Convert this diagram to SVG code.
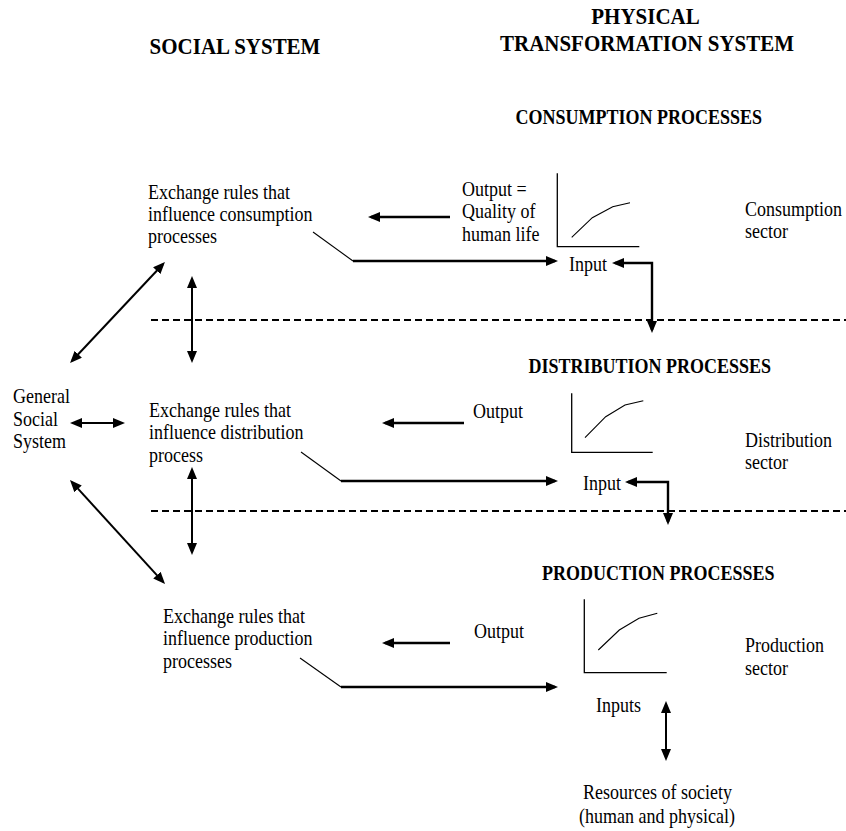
<svg xmlns="http://www.w3.org/2000/svg" width="846" height="831" viewBox="0 0 846 831">
<defs>
<marker id="ah" markerUnits="userSpaceOnUse" markerWidth="12" markerHeight="10" refX="9" refY="5" orient="auto-start-reverse" viewBox="0 0 12 10"><path d="M0,0 L12,5 L0,10 z" fill="#000"/></marker>
<style>
text{font-family:"Liberation Serif","Times New Roman",serif;fill:#000}
.t{font-size:18px}
.h1{font-size:21px;font-weight:bold;text-anchor:middle}
.h2{font-size:18px;font-weight:bold;text-anchor:middle}
.ax{fill:none;stroke:#000;stroke-width:1.3}
.cv{fill:none;stroke:#000;stroke-width:1.1}
.thick{fill:none;stroke:#000;stroke-width:2.4}
.dbl{fill:none;stroke:#000;stroke-width:2}
.thin{fill:none;stroke:#000;stroke-width:1.1}
.dash{fill:none;stroke:#000;stroke-width:2;stroke-dasharray:7 4}
</style>
</defs>
<rect width="846" height="831" fill="#fff"/>

<g id="social-system-title"><text class="h1" transform="matrix(1 0 0 1.12 235 54)">SOCIAL SYSTEM</text></g>
<g id="physical-system-title">
<text class="h1" transform="matrix(1 0 0 1.12 645.5 24)">PHYSICAL</text>
<text class="h1" transform="matrix(1 0 0 1.12 647 51)">TRANSFORMATION SYSTEM</text>
</g>
<g id="consumption-header"><text class="h2" transform="matrix(1 0 0 1.12 638.7 124)">CONSUMPTION PROCESSES</text></g>
<g id="distribution-header"><text class="h2" transform="matrix(1 0 0 1.12 649.7 373)">DISTRIBUTION PROCESSES</text></g>
<g id="production-header"><text class="h2" transform="matrix(1 0 0 1.12 658.2 580)">PRODUCTION PROCESSES</text></g>

<g id="general-social-system">
<text class="t" transform="matrix(1 0 0 1.12 13 403)">General</text>
<text class="t" transform="matrix(1 0 0 1.12 13 426)">Social</text>
<text class="t" transform="matrix(1 0 0 1.12 13 448)">System</text>
</g>

<g id="exchange-consumption">
<text class="t" transform="matrix(1 0 0 1.12 148 199)">Exchange rules that</text>
<text class="t" transform="matrix(1 0 0 1.12 148 221)">influence consumption</text>
<text class="t" transform="matrix(1 0 0 1.12 148 243)">processes</text>
</g>
<g id="exchange-distribution">
<text class="t" transform="matrix(1 0 0 1.12 149 417)">Exchange rules that</text>
<text class="t" transform="matrix(1 0 0 1.12 149 439)">influence distribution</text>
<text class="t" transform="matrix(1 0 0 1.12 149 462)">process</text>
</g>
<g id="exchange-production">
<text class="t" transform="matrix(1 0 0 1.12 163 623)">Exchange rules that</text>
<text class="t" transform="matrix(1 0 0 1.12 163 645)">influence production</text>
<text class="t" transform="matrix(1 0 0 1.12 163 668)">processes</text>
</g>

<g id="consumption-output">
<text class="t" transform="matrix(1 0 0 1.12 462 196)">Output =</text>
<text class="t" transform="matrix(1 0 0 1.12 462 218)">Quality of</text>
<text class="t" transform="matrix(1 0 0 1.12 462 241)">human life</text>
</g>
<g id="consumption-sector">
<path class="ax" d="M557.3,173.3 V246.7 H639.3"/>
<path class="cv" d="M571.7,237.3 L592.3,217.7 L612.7,206.7 L630,202.7"/>
<text class="t" transform="matrix(1 0 0 1.12 745 216)">Consumption</text>
<text class="t" transform="matrix(1 0 0 1.12 745 238)">sector</text>
</g>
<g id="consumption-input"><text class="t" transform="matrix(1 0 0 1.12 569 271)">Input</text></g>

<g id="distribution-output"><text class="t" transform="matrix(1 0 0 1.12 473 418)">Output</text></g>
<g id="distribution-sector">
<path class="ax" d="M571.7,393.3 V452.3 H652.7"/>
<path class="cv" d="M585,437.7 L605.7,416.7 L625,405 L643.3,400.7"/>
<text class="t" transform="matrix(1 0 0 1.12 745 447)">Distribution</text>
<text class="t" transform="matrix(1 0 0 1.12 745 469)">sector</text>
</g>
<g id="distribution-input"><text class="t" transform="matrix(1 0 0 1.12 583 490)">Input</text></g>

<g id="production-output"><text class="t" transform="matrix(1 0 0 1.12 474 638)">Output</text></g>
<g id="production-sector">
<path class="ax" d="M584.3,599.3 V672.7 H666.7"/>
<path class="cv" d="M598.3,650 L619.3,630 L639,618.3 L657.3,613.3"/>
<text class="t" transform="matrix(1 0 0 1.12 745 652)">Production</text>
<text class="t" transform="matrix(1 0 0 1.12 745 675)">sector</text>
</g>
<g id="production-inputs"><text class="t" transform="matrix(1 0 0 1.12 596 712)">Inputs</text></g>
<g id="resources">
<text class="t" transform="matrix(1 0 0 1.12 583 799)">Resources of society</text>
<text class="t" transform="matrix(1 0 0 1.12 579 823)">(human and physical)</text>
</g>

<g id="boundaries">
<path class="dash" d="M151,320 H846"/>
<path class="dash" d="M151,511 H846"/>
</g>

<g id="connectors">
<path class="thick" d="M450,217 H371" marker-end="url(#ah)"/>
<path class="thin" d="M313,232 L353,261"/>
<path class="thick" d="M353,261 H555" marker-end="url(#ah)"/>
<path class="thick" d="M615,263 H652 V330" marker-start="url(#ah)" marker-end="url(#ah)"/>
<path class="dbl" d="M162.9,264.2 L72.1,360.8" marker-start="url(#ah)" marker-end="url(#ah)"/>
<path class="dbl" d="M192,279 V360" marker-start="url(#ah)" marker-end="url(#ah)"/>
<path class="dbl" d="M73,423 H122" marker-start="url(#ah)" marker-end="url(#ah)"/>
<path class="thick" d="M464,423 H385" marker-end="url(#ah)"/>
<path class="thin" d="M301,452 L341,481"/>
<path class="thick" d="M341,481 H555" marker-end="url(#ah)"/>
<path class="thick" d="M628,482 H668 V522" marker-start="url(#ah)" marker-end="url(#ah)"/>
<path class="dbl" d="M192,470 V552" marker-start="url(#ah)" marker-end="url(#ah)"/>
<path class="dbl" d="M72,482.2 L163,581.8" marker-start="url(#ah)" marker-end="url(#ah)"/>
<path class="thick" d="M450,643 H385" marker-end="url(#ah)"/>
<path class="thin" d="M300,658 L341,687"/>
<path class="thick" d="M341,687 H555" marker-end="url(#ah)"/>
<path class="dbl" d="M666,704 V758" marker-start="url(#ah)" marker-end="url(#ah)"/>
</g>
</svg>
